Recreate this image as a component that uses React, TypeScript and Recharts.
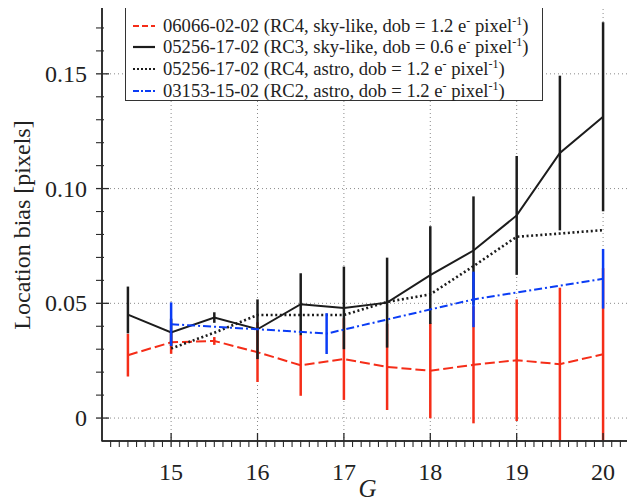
import React from 'react';
import { ComposedChart, Line, XAxis, YAxis, CartesianGrid, ErrorBar, ReferenceArea } from 'recharts';

// ---- data ----
const redG = [14.5, 15, 15.5, 16, 16.5, 17, 17.5, 18, 18.5, 19, 19.5, 20];
const redVal = [0.0274, 0.033, 0.0336, 0.0287, 0.023, 0.0257, 0.0223, 0.0206, 0.0232, 0.0252, 0.0235, 0.0278];
const redErr = [0.0093, 0.005, 0.0017, 0.013, 0.0133, 0.0178, 0.0188, 0.0207, 0.0255, 0.0265, 0.0333, 0.0375];

const blackG = [14.5, 15, 15.5, 16, 16.5, 17, 17.5, 18, 18.5, 19, 19.5, 20];
const blackVal = [0.0451, 0.0373, 0.0438, 0.0387, 0.0496, 0.048, 0.0503, 0.0623, 0.073, 0.0883, 0.1155, 0.1313];
const blackErr: (number | number[])[] = [[0.0082, 0.0122], 0.006, 0.0023, 0.013, 0.0135, 0.018, 0.0196, 0.0213, 0.0236, 0.0259, 0.0337, 0.0412];

const dotG = [15, 15.5, 16, 16.5, 17, 17.5, 18, 18.5, 19, 19.5, 20];
const dotVal = [0.0303, 0.0372, 0.0449, 0.0449, 0.0449, 0.0506, 0.0539, 0.0662, 0.079, 0.0804, 0.0819];

const blueG = [15, 16, 16.8, 18.5, 20];
const blueVal = [0.0409, 0.0387, 0.0368, 0.0517, 0.0607];
const blueErr = [0.0095, 0, 0.0089, 0.0121, 0.013];

const xTicks = [15, 16, 17, 18, 19, 20];
const yTicks = [0, 0.05, 0.1, 0.15];
const xMinorTicks = [14.3, 14.4, 14.5, 14.6, 14.7, 14.8, 14.9, 15.1, 15.2, 15.3, 15.4, 15.5, 15.6, 15.7, 15.8, 15.9, 16.1, 16.2, 16.3, 16.4, 16.5, 16.6, 16.7, 16.8, 16.9, 17.1, 17.2, 17.3, 17.4, 17.5, 17.6, 17.7, 17.8, 17.9, 18.1, 18.2, 18.3, 18.4, 18.5, 18.6, 18.7, 18.8, 18.9, 19.1, 19.2, 19.3, 19.4, 19.5, 19.6, 19.7, 19.8, 19.9, 20.1, 20.2];
const yMinorTicks = [0.01, 0.02, 0.03, 0.04, 0.06, 0.07, 0.08, 0.09, 0.11, 0.12, 0.13, 0.14, 0.16, 0.17];

const seriesNames = [
  '06066-02-02 (RC4, sky-like, dob = 1.2',
  '05256-17-02 (RC3, sky-like, dob = 0.6',
  '05256-17-02 (RC4, astro, dob = 1.2',
  '03153-15-02 (RC2, astro, dob = 1.2',
];

const RED = '#f52d18';
const BLACK = '#1c1c1c';
const BLUE = '#0a3cf5';
const FONT = "Liberation Serif, DejaVu Serif, serif";

const redData = redG.map((g, i) => ({ g, v: redVal[i], err: redErr[i] }));
const blackData = blackG.map((g, i) => ({ g, v: blackVal[i], err: blackErr[i] }));
const dotData = dotG.map((g, i) => ({ g, v: dotVal[i] }));
const blueData = blueG.map((g, i) => ({ g, v: blueVal[i], err: blueErr[i] }));

const allXTicks = [...xTicks, ...xMinorTicks].sort((a, b) => a - b);
const allYTicks = [...yTicks, ...yMinorTicks].sort((a, b) => a - b);
const isMajor = (list: number[], v: number) => list.some((t) => Math.abs(t - v) < 1e-9);

const legendStyles = [
  { stroke: RED, dash: '6 3' },
  { stroke: BLACK, dash: '' },
  { stroke: BLACK, dash: '2 2' },
  { stroke: BLUE, dash: '6 2 2 2' },
];

const X_DOMAIN: [number, number] = [14.2, 20.3];
const Y_DOMAIN: [number, number] = [-0.01, 0.18];
const X_MARGIN = 30;
const Y_MARGIN = 9;

const XTick = (props: any) => {
  const { x, y, payload } = props;
  const axisY = y - X_MARGIN;
  const major = isMajor(xTicks, payload.value);
  return (
    <g>
      <line x1={x} y1={axisY} x2={x} y2={axisY - (major ? 14 : 7)} stroke="#2a2a2a" strokeWidth={major ? 1.3 : 1.1} />
      {major && (
        <text x={x} y={axisY + 33} textAnchor="middle" fontSize={24} fill="#222" style={{ fontFamily: FONT }}>
          {String(payload.value)}
        </text>
      )}
    </g>
  );
};

const YTick = (props: any) => {
  const { x, y, payload } = props;
  const axisX = x + Y_MARGIN;
  const major = isMajor(yTicks, payload.value);
  const v = payload.value as number;
  return (
    <g>
      <line x1={axisX} y1={y} x2={axisX + (major ? 13 : 8)} y2={y} stroke="#2a2a2a" strokeWidth={major ? 1.3 : 1.1} />
      {major && (
        <text x={axisX - 9} y={y} dy={8} textAnchor="end" fontSize={24} fill="#222" style={{ fontFamily: FONT }}>
          {Math.abs(v) < 1e-9 ? '0' : v.toFixed(2)}
        </text>
      )}
    </g>
  );
};

const YLabel = (props: any) => {
  const vb = props.viewBox || { x: 0, y: 0, height: 0 };
  const cx = 22;
  const cy = vb.y + vb.height / 2 + 2;
  return (
    <text x={cx} y={cy} transform={`rotate(-90 ${cx} ${cy})`} textAnchor="middle" dominantBaseline="central" fontSize={24} fill="#222" style={{ fontFamily: FONT }}>
      Location bias [pixels]
    </text>
  );
};

const XLabel = (props: any) => {
  const vb = props.viewBox || { x: 0, y: 0, width: 0 };
  return (
    <text x={vb.x + vb.width / 2 + 2} y={497} textAnchor="middle" fontSize={25} fill="#222" style={{ fontFamily: FONT, fontStyle: 'italic' }}>
      G
    </text>
  );
};

export default function App() {
  return (
    <div style={{ position: 'relative', width: 635, height: 504, margin: '-8px 0 0 -8px', fontFamily: FONT }}>
      <ComposedChart width={635} height={504} margin={{ top: 5, right: 6, bottom: 0, left: 0 }}>
        <CartesianGrid xAxisId="main" yAxisId="main" horizontalValues={yTicks} verticalValues={xTicks} stroke="#8a8a8a" strokeDasharray="1 3" strokeWidth={1} />
        <XAxis
          xAxisId="main"
          type="number"
          dataKey="g"
          domain={X_DOMAIN}
          allowDataOverflow
          ticks={allXTicks}
          interval={0}
          tickLine={false}
          tickMargin={X_MARGIN}
          axisLine={{ stroke: '#222', strokeWidth: 1.5 }}
          tick={<XTick />}
          height={63}
          label={<XLabel />}
        />
        <YAxis
          yAxisId="main"
          type="number"
          domain={Y_DOMAIN}
          allowDataOverflow
          ticks={allYTicks}
          interval={0}
          tickLine={false}
          tickMargin={Y_MARGIN}
          axisLine={{ stroke: '#222', strokeWidth: 1.5 }}
          tick={<YTick />}
          width={102}
          label={<YLabel />}
        />
        <ReferenceArea
          xAxisId="main"
          yAxisId="main"
          x1={X_DOMAIN[0]}
          x2={X_DOMAIN[1]}
          y1={Y_DOMAIN[0]}
          y2={Y_DOMAIN[1]}
          fill="none"
          fillOpacity={0}
          stroke="#3a3a3a"
          strokeWidth={1.5}
          ifOverflow="visible"
        />
        <Line xAxisId="main" yAxisId="main" data={redData} dataKey="v" name={seriesNames[0]} stroke={RED} strokeWidth={2} strokeDasharray="10 4" dot={false} isAnimationActive={false}>
          <ErrorBar dataKey="err" direction="y" width={0} stroke={RED} strokeWidth={2.5} />
        </Line>
        <Line xAxisId="main" yAxisId="main" data={blackData} dataKey="v" name={seriesNames[1]} stroke={BLACK} strokeWidth={2} dot={false} isAnimationActive={false}>
          <ErrorBar dataKey="err" direction="y" width={0} stroke={BLACK} strokeWidth={2.5} />
        </Line>
        <Line xAxisId="main" yAxisId="main" data={dotData} dataKey="v" name={seriesNames[2]} stroke={BLACK} strokeWidth={2.6} strokeDasharray="2 2.6" dot={false} isAnimationActive={false} />
        <Line xAxisId="main" yAxisId="main" data={blueData} dataKey="v" name={seriesNames[3]} stroke={BLUE} strokeWidth={2} strokeDasharray="8 3 2 3" dot={false} isAnimationActive={false}>
          <ErrorBar dataKey="err" direction="y" width={0} stroke={BLUE} strokeWidth={2.5} />
        </Line>
      </ComposedChart>
      <div
        style={{
          position: 'absolute',
          left: 125,
          top: 4,
          width: 418,
          height: 97,
          boxSizing: 'border-box',
          border: '1.5px solid #333',
          background: '#fff',
          padding: '10px 0 0 6px',
          fontFamily: FONT,
          fontSize: 18.6,
          color: '#222',
        }}
      >
        {seriesNames.map((n, i) => (
          <div key={i} style={{ display: 'flex', alignItems: 'center', height: 21.6, whiteSpace: 'nowrap' }}>
            <svg width={24} height={10} style={{ marginRight: 7 }}>
              <line x1={1} y1={5} x2={23} y2={5} stroke={legendStyles[i].stroke} strokeWidth={2.2} strokeDasharray={legendStyles[i].dash || undefined} />
            </svg>
            <span>
              {n} e<sup style={{ fontSize: '0.65em', lineHeight: 0 }}>-</sup> pixel<sup style={{ fontSize: '0.65em', lineHeight: 0 }}>-1</sup>)
            </span>
          </div>
        ))}
      </div>
    </div>
  );
}
